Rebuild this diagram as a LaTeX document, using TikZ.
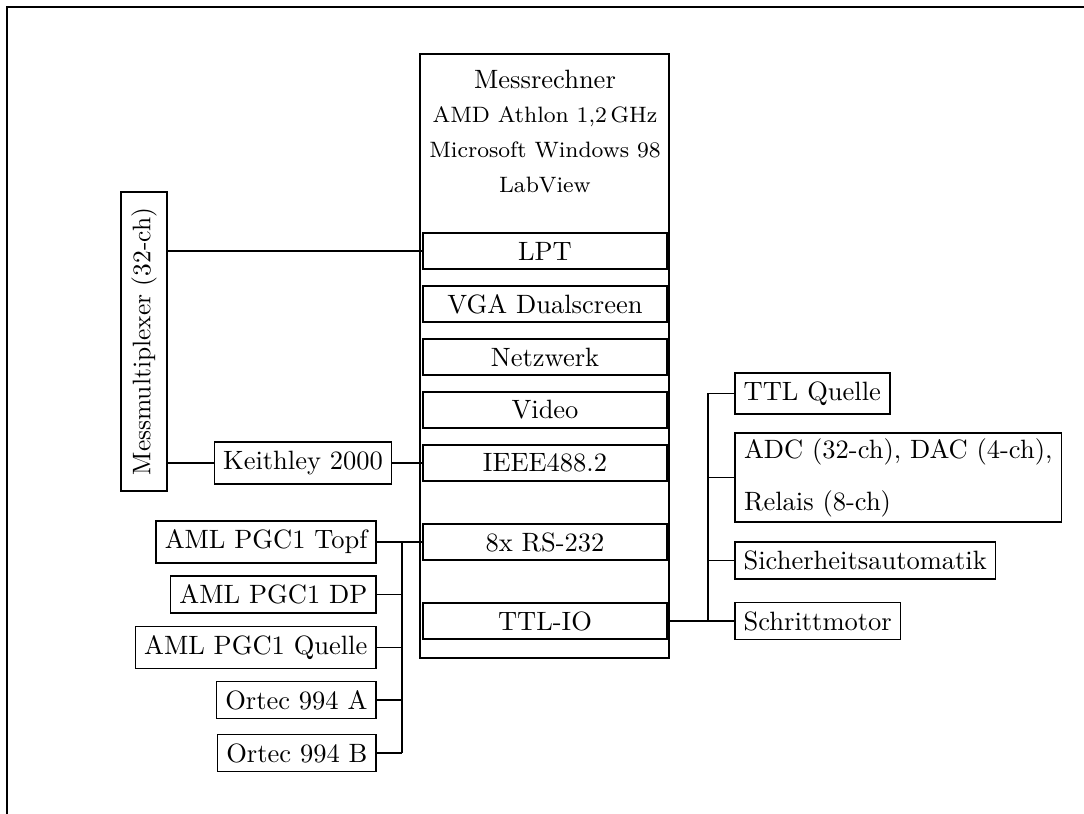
\documentclass[tikz,border=0pt]{standalone}
\usepackage{graphicx}
\begin{document}
\begin{tikzpicture}[x=0.3774pt,y=-0.3774pt,
  box/.style={draw, line width=0.6pt},
  port/.style={box, minimum width=92.1pt, minimum height=13.6pt, inner sep=0pt},
  conn/.style={line width=0.6pt},
  thickconn/.style={line width=0.85pt},
  frameline/.style={line width=0.8pt},
  small/.style={font=\fontsize{8.4}{10}\selectfont, inner sep=0pt}]
\useasboundingbox (0,0) rectangle (1084,814);
% frame
\draw[frameline] (7,814) -- (7,7) -- (1084,7);
% main computer
\node[box, minimum width=94pt, minimum height=228pt, inner sep=0pt] (pc) at (544.5,356) {};
\node (t1) at (545,79) {Messrechner};
\node[small] (t2) at (545,117) {AMD Athlon 1,2\,GHz};
\node[small] (t3) at (545,150) {Microsoft Windows 98};
\node[small] (t4) at (545,185) {LabView};
% ports
\node[port] (lpt) at (545,251) {LPT};
\node[port] (vga) at (545,304) {VGA Dualscreen};
\node[port] (net) at (545,357) {Netzwerk};
\node[port] (vid) at (545,410) {Video};
\node[port] (ieee) at (545,463) {IEEE488.2};
\node[port] (rs) at (545,542) {8x RS-232};
\node[port] (ttl) at (545,621) {TTL-IO};
% multiplexer
\node[box, minimum width=17.4pt, minimum height=112.8pt, inner sep=0pt] (mux) at (144,341.5)
  {\rotatebox{90}{\fontsize{9.6}{11}\selectfont Messmultiplexer (32-ch)}};
\node[box] (keith) at (303,463) {Keithley 2000};
\draw[conn] (mux.east |- lpt.west) -- (lpt.west);
\draw[conn] (mux.east |- keith.west) -- (keith.west);
\draw[conn] (keith.east) -- (ieee.west);
% left devices
\node[box, anchor=east] (topf) at (377,542) {AML PGC1 Topf};
\node[box, anchor=east] (dp) at (377,594.5) {AML PGC1 DP};
\node[box, anchor=east] (quelle) at (377,647.5) {AML PGC1 Quelle};
\node[box, anchor=east] (ora) at (377,700) {Ortec 994 A};
\node[box, anchor=east] (orb) at (377,753) {Ortec 994 B};
\coordinate (lb) at (402,542);
\draw[conn] (topf.east) -- (rs.west);
\draw[conn] (lb) -- (lb |- orb.east);
\draw[conn] (dp.east) -- (dp.east -| lb);
\draw[conn] (quelle.east) -- (quelle.east -| lb);
\draw[conn] (ora.east) -- (ora.east -| lb);
\draw[conn] (orb.east) -- (orb.east -| lb);
% right devices
\node[box, anchor=west] (ttlq) at (734,393.5) {TTL Quelle};
\node[box, anchor=west, align=left, inner xsep=3.5pt, inner ysep=2pt] (adc) at (734,477.5)
  {ADC (32-ch), DAC (4-ch),\\[7.6pt]Relais (8-ch)};
\node[box, anchor=west] (sich) at (734,560.5) {Sicherheitsautomatik};
\node[box, anchor=west] (schr) at (734,621) {Schrittmotor};
\coordinate (rb) at (708,393.5);
\draw[thickconn] (ttl.east) -- (ttl.east -| rb);
\draw[thickconn] (rb) -- (rb |- ttl.east);
\draw[conn] (rb) -- (ttlq.west);
\draw[conn] (adc.west -| rb) -- (adc.west);
\draw[conn] (sich.west -| rb) -- (sich.west);
\draw[conn] (schr.west -| rb) -- (schr.west);
\end{tikzpicture}
\end{document}
